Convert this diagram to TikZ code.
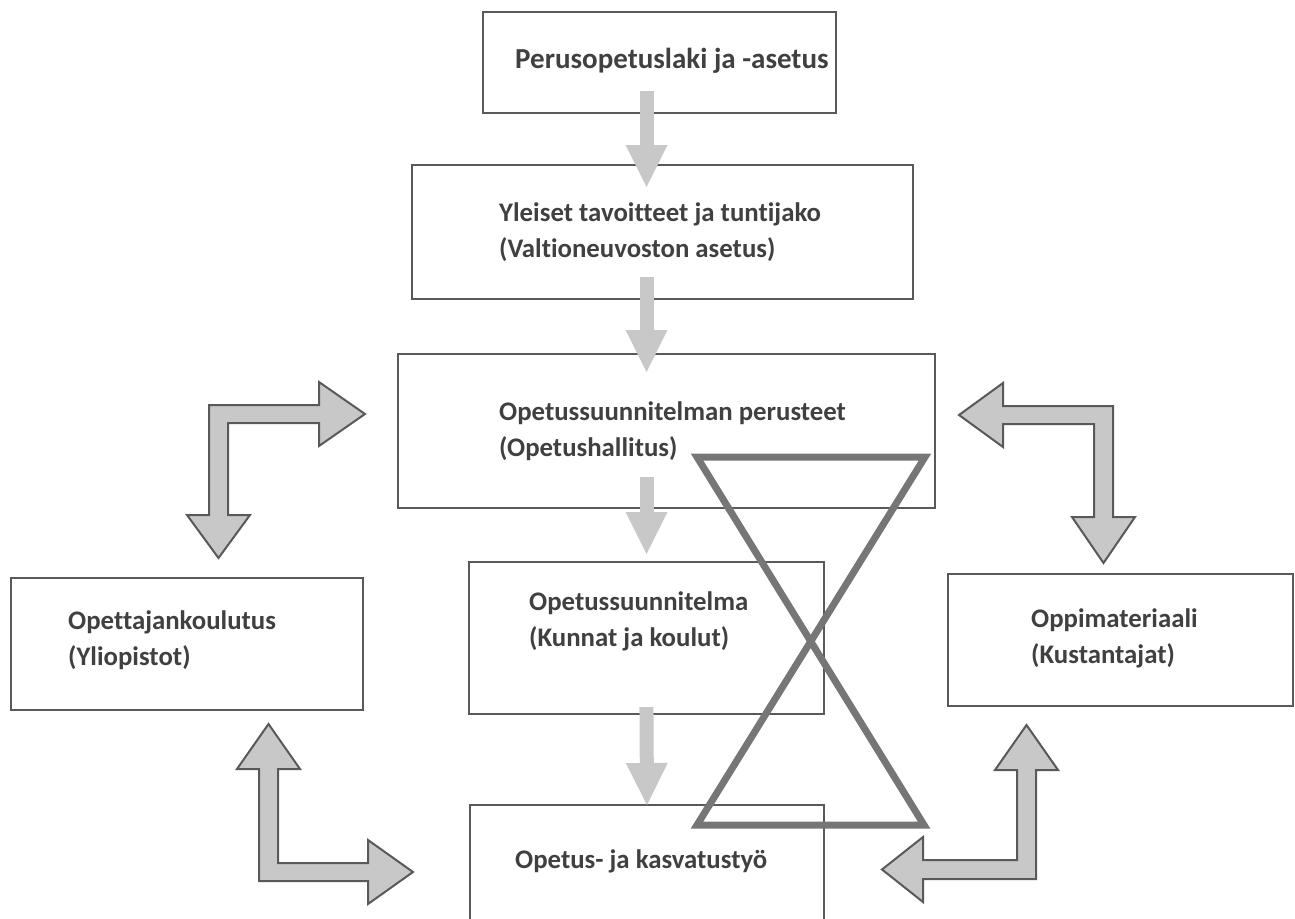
\documentclass[tikz,border=0pt]{standalone}
\usepackage{fontspec}
\setmainfont{Carlito}[Ligatures=NoCommon]
\usetikzlibrary{arrows.meta, positioning}
\definecolor{boxline}{HTML}{595959}
\definecolor{txtgray}{HTML}{404040}
\definecolor{flowgray}{HTML}{C8C8C8}
\definecolor{glassgray}{HTML}{767676}

\begin{document}
\begin{tikzpicture}[x=1pt, y=-1pt,
    box/.style={rectangle, draw=boxline, line width=2pt, inner sep=0pt},
    txt/.style={inner sep=0pt, align=left, text=txtgray, font=\fontsize{26.8}{36}\selectfont\bfseries},
    flow/.style={draw=flowgray, line width=14pt, -{Triangle[width=42pt, length=42pt, line width=0pt]}},
    bent/.style={fill=flowgray, draw=boxline, line width=2pt},
    hourglass/.style={draw=glassgray, line width=7pt}
]
\useasboundingbox (0,0) rectangle (1295,918);
\clip (0,0) rectangle (1295,918);

% Boxes (top to bottom)
\node[box, minimum width=353pt, minimum height=101pt] (laki) at (659.5,62.5) {};
\node[box, minimum width=501pt, minimum height=134pt] (yleiset) at (662.5,232) {};
\node[box, minimum width=537pt, minimum height=154pt] (perusteet) at (666.5,431) {};
\node[box, minimum width=355pt, minimum height=152pt] (ops) at (646.5,638) {};
\node[box, minimum width=354pt, minimum height=152pt, anchor=north] (tyo) at (647,804) {};
\node[box, minimum width=352pt, minimum height=132pt] (koulutus) at (187,644) {};
\node[box, minimum width=345pt, minimum height=132pt] (materiaali) at (1120.5,640) {};

% Texts
\node[txt, font=\fontsize{29}{36}\selectfont\bfseries, right=33pt of laki.west, yshift=2pt] (laki-t) {Perusopetuslaki ja -asetus};
\node[txt, right=88pt of yleiset.west] (yleiset-t) {Yleiset tavoitteet ja tuntijako\\(Valtioneuvoston asetus)};
\node[txt, right=102pt of perusteet.west] (perusteet-t) {Opetussuunnitelman perusteet\\(Opetushallitus)};
\node[txt, right=61pt of ops.west, yshift=17pt] (ops-t) {Opetussuunnitelma\\(Kunnat ja koulut)};
\node[txt, right=46pt of tyo.west, yshift=20pt] (tyo-t) {Opetus- ja kasvatustyö};
\node[txt, right=58pt of koulutus.west, yshift=4pt] (koulutus-t) {Opettajankoulutus\\(Yliopistot)};
\node[txt, right=84pt of materiaali.west, yshift=2pt] (materiaali-t) {Oppimateriaali\\(Kustantajat)};

% Down arrows
\draw[flow, shorten <=-23pt, shorten >=-23pt] (laki.south -| ops) -- (yleiset.north -| ops);
\draw[flow, shorten <=-23pt, shorten >=-19pt] (yleiset.south -| ops) -- (perusteet.north -| ops);
\draw[flow, shorten <=-32pt, shorten >=7pt] (perusteet.south -| ops) -- (ops.north);
\draw[flow, shorten <=-8pt, shorten >=-1pt] (ops.south) -- (tyo.north);

% Bent double arrows
\draw[bent] (228,515) -- (250,515) -- (218.5,558) -- (187,515) -- (209,515) -- (209,405) -- (319,405) -- (319,382) -- (365,414) -- (319,446) -- (319,423) -- (228,423) -- cycle;
\draw[bent] (959,415) -- (1003,383) -- (1003,406) -- (1113,406) -- (1113,517) -- (1135,517) -- (1103.5,563) -- (1072,517) -- (1094,517) -- (1094,424) -- (1003,424) -- (1003,447) -- cycle;
\draw[bent] (268.5,724) -- (300,769) -- (278,769) -- (278,863) -- (368,863) -- (368,840) -- (413,872) -- (368,904) -- (368,881) -- (259,881) -- (259,769) -- (237,769) -- cycle;
\draw[bent] (1026.5,725) -- (1058,770) -- (1036,770) -- (1036,879) -- (923,879) -- (923,902) -- (882,869.5) -- (923,837) -- (923,860) -- (1017,860) -- (1017,770) -- (995,770) -- cycle;

% Hourglass
\draw[hourglass] (697,457) -- (925,457) -- (697,825) -- (924,825) -- cycle;
\end{tikzpicture}
\end{document}
